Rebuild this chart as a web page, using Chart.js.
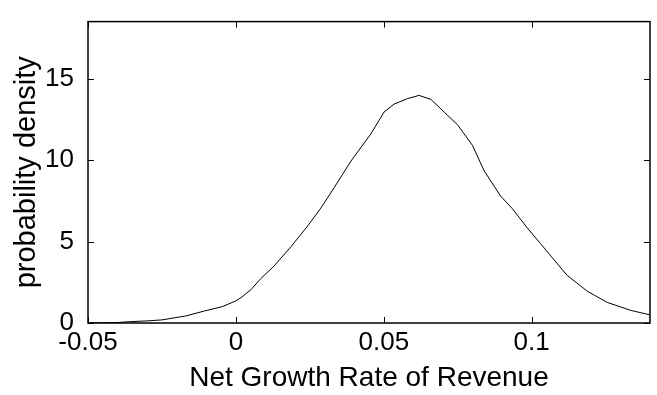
<!DOCTYPE html>
<html lang="en">

<head>
    <meta charset="UTF-8">
    <title>probability density</title>
    <script src="https://cdn.jsdelivr.net/npm/chart.js"></script>
    <style>
        body { margin: 0; background: #fff; }
        #wrap { width: 657px; height: 395px; }
    </style>
</head>

<body>
    <div id="wrap"><canvas id="densityChart" width="657" height="395"></canvas></div>
    <script>
        // growth rate (x) and density (y)
        const growthRate = [-0.05, -0.045, -0.04, -0.036, -0.030, -0.025, -0.017, -0.011, -0.0045, 0, 0.0017,
            0.0051, 0.0084, 0.0129, 0.0186, 0.0242, 0.0287, 0.0332, 0.0389, 0.0456, 0.0501, 0.0535, 0.058,
            0.0619, 0.0659, 0.0704, 0.0749, 0.080, 0.0839, 0.0895, 0.0935, 0.0985, 0.103, 0.1075, 0.112,
            0.1188, 0.1256, 0.1334, 0.1402];
        const density = [0.01, 0.02, 0.03, 0.08, 0.13, 0.19, 0.43, 0.72, 1.01, 1.36, 1.55,
            2.05, 2.72, 3.5, 4.68, 5.94, 7.05, 8.3, 9.94, 11.6, 12.95, 13.44, 13.77,
            13.97, 13.73, 12.95, 12.17, 10.9, 9.35, 7.79, 7.01, 5.84, 4.87, 3.89, 2.92,
            1.95, 1.26, 0.78, 0.49];
        const xTicks = [-0.05, 0, 0.05, 0.1];
        const yTicks = [0, 5, 10, 15];

        const family = 'Arial, "Liberation Sans", sans-serif';
        const tickFont = { family: family, size: 26 };

        // matlab style box with inward tick marks
        const boxPlugin = {
            id: 'box',
            afterDraw(chart) {
                const { ctx, chartArea: a, scales } = chart;
                ctx.save();
                ctx.strokeStyle = '#000';
                ctx.lineWidth = 1;
                ctx.beginPath();
                scales.x.ticks.forEach(t => {
                    const px = Math.round(scales.x.getPixelForValue(t.value)) + 0.5;
                    ctx.moveTo(px, a.bottom); ctx.lineTo(px, a.bottom - 6);
                    ctx.moveTo(px, a.top); ctx.lineTo(px, a.top + 6);
                });
                scales.y.ticks.forEach(t => {
                    const py = Math.round(scales.y.getPixelForValue(t.value)) + 0.5;
                    ctx.moveTo(a.left, py); ctx.lineTo(a.left + 6, py);
                    ctx.moveTo(a.right, py); ctx.lineTo(a.right - 6, py);
                });
                ctx.stroke();
                ctx.lineWidth = 1.5;
                ctx.strokeRect(a.left, a.top, a.right - a.left, a.bottom - a.top);
                ctx.restore();
            }
        };

        const ctx = document.getElementById('densityChart').getContext('2d');
        new Chart(ctx, {
            type: 'scatter',
            data: {
                datasets: [{
                    data: growthRate.map((x, i) => ({ x: x, y: density[i] })),
                    showLine: true,
                    borderColor: '#000',
                    borderWidth: 1,
                    pointRadius: 0,
                    tension: 0
                }]
            },
            options: {
                responsive: false,
                animation: false,
                layout: { padding: { top: 7, right: 7, left: 0, bottom: 0 } },
                plugins: { legend: { display: false }, tooltip: { enabled: false } },
                scales: {
                    x: {
                        type: 'linear',
                        min: -0.05,
                        max: 0.14,
                        afterBuildTicks: s => { s.ticks = xTicks.map(v => ({ value: v })); },
                        afterFit: s => { s.height = 72; },
                        grid: { display: false },
                        border: { display: false },
                        ticks: {
                            color: '#000', font: tickFont, padding: -4, maxRotation: 0, autoSkip: false,
                            callback: v => String(v)
                        },
                        title: {
                            display: true, text: 'Net Growth Rate of Revenue', color: '#000',
                            font: { family: family, size: 28 },
                            padding: { top: 0, bottom: 0 }
                        }
                    },
                    y: {
                        min: 0,
                        max: 18.5,
                        afterBuildTicks: s => { s.ticks = yTicks.map(v => ({ value: v })); },
                        afterFit: s => { s.width = 88; },
                        grid: { display: false },
                        border: { display: false },
                        ticks: { color: '#000', font: tickFont, padding: 6, callback: v => String(v) },
                        title: {
                            display: true, text: 'probability density', color: '#000',
                            font: { family: family, size: 29 },
                            padding: { top: 10, bottom: 0 }
                        }
                    }
                }
            },
            plugins: [boxPlugin]
        });
    </script>
</body>

</html>
